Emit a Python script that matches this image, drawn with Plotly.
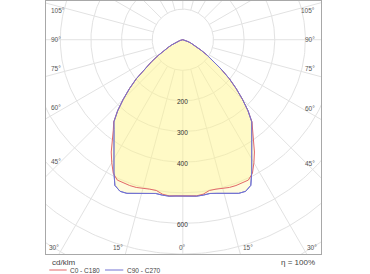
import numpy as np
import plotly.graph_objects as go

# ---- data (cd/klm) ----
angles = [0, 2.5, 5, 7.5, 10, 12.5, 15, 17.5, 20, 22.5, 25, 27.5, 30, 32.5, 35, 37.5,
          40, 42.5, 45, 47.5, 50, 52.5, 55, 57.5, 60, 62.5, 65, 67.5, 70, 72.5, 75,
          77.5, 80, 82.5, 85, 87.5, 90]
c0_c180 = [511, 511, 512, 509, 500, 500, 502, 506, 507, 506, 506, 492, 464, 435, 402, 373,
           351, 315, 275, 236, 198, 157, 124, 94, 69, 53, 40, 28, 18, 12, 8,
           5, 3, 2, 1, 0.5, 0]
c90_c270 = [511, 511, 513, 512, 510, 514, 520, 526, 534, 536, 525, 487, 450, 419, 392, 369,
            350, 315, 275, 236, 198, 157, 124, 94, 69, 53, 40, 28, 18, 12, 8,
            5, 3, 2, 1, 0.5, 0]
ring_values = [100, 200, 300, 400, 500, 600, 700, 800, 900]
ring_labels = [200, 300, 400, 600]
spoke_angles = list(range(0, 360, 15))
angle_tick_labels = [0, 15, 30, 45, 60, 75, 90, 105]
series_names = ["C0 - C180", "C90 - C270"]
efficiency_text = "η = 100%"
unit_text = "cd/klm"

# ---- layout constants ----
W, H = 370, 274
ML, MR, MT, MB = 46, 49, 1, 20
X0, X1 = -446.7, 451.0
Y0, Y1 = -700.0, 126.5
pw = W - ML - MR
ph = H - MT - MB
ux = (X1 - X0) / pw   # data units per px
uy = (Y1 - Y0) / ph
FONT = "Liberation Sans, Arial, sans-serif"
RED = "#E2686A"
BLUE = "#7272D2"
GRID = "#E2E2E2"


def polar_xy(theta_deg, r):
    t = np.radians(np.asarray(theta_deg, dtype=float))
    r = np.asarray(r, dtype=float)
    return r * np.sin(t), -r * np.cos(t)


def full_curve(vals):
    th = [-a for a in angles[::-1]] + angles[1:]
    rr = vals[::-1] + vals[1:]
    return polar_xy(th, rr)


fig = go.Figure()

# grid rings
gx, gy = [], []
tt = np.linspace(0, 360, 361)
for rv in ring_values:
    x, y = polar_xy(tt, [rv] * len(tt))
    gx += list(x) + [None]
    gy += list(y) + [None]
fig.add_trace(go.Scatter(x=gx, y=gy, mode="lines", line=dict(color=GRID, width=1),
                         hoverinfo="skip", showlegend=False))
# spokes
sx, sy = [], []
for a in spoke_angles:
    x, y = polar_xy([a, a], [ring_values[0], 1200])
    sx += list(x) + [None]
    sy += list(y) + [None]
fig.add_trace(go.Scatter(x=sx, y=sy, mode="lines", line=dict(color=GRID, width=1),
                         hoverinfo="skip", showlegend=False))

# curves
bx, by = full_curve(c90_c270)
rx, ry = full_curve(c0_c180)
fig.add_trace(go.Scatter(x=bx, y=by, mode="lines", fill="toself",
                         fillcolor="rgba(255,246,130,0.28)", line=dict(color=BLUE, width=1),
                         name=series_names[1], showlegend=False))
fig.add_trace(go.Scatter(x=rx, y=ry, mode="lines", fill="toself",
                         fillcolor="rgba(255,246,150,0.30)", line=dict(color=RED, width=1),
                         name=series_names[0], showlegend=False))
fig.add_trace(go.Scatter(x=bx, y=by, mode="lines", line=dict(color=BLUE, width=1),
                         hoverinfo="skip", showlegend=False))

annotations = []
# ring labels
for rv in ring_labels:
    annotations.append(dict(x=0, y=-rv, xref="x", yref="y", text=str(rv), showarrow=False,
                            xanchor="center", yanchor="middle", yshift=-1,
                            font=dict(family=FONT, size=6.5, color="#333333")))

# angle labels on frame
yb_label = Y0 + 1.5 * uy          # bottom of bottom labels
yc_bottom = Y0 + 6 * uy           # centre level of bottom labels
for a in angle_tick_labels:
    sides = [0] if a == 0 else [-1, 1]
    for side in sides:
        sa, ca = np.sin(np.radians(a)), np.cos(np.radians(a))
        xedge = X0 if side < 0 else X1
        t_side = abs(xedge) / sa if sa > 1e-9 else np.inf
        t_bot = -Y0 / ca if ca > 1e-9 else np.inf
        txt = f"{a}°"
        f = dict(family=FONT, size=6.5, color="#555555")
        if t_bot < t_side:
            xs = side * (-yc_bottom) * sa / ca if side != 0 else 0.0
            if side == 0:
                xa, xsft = "center", 0
            elif side < 0:
                xa, xsft = "right", -2
            else:
                xa, xsft = "left", 2
            annotations.append(dict(x=xs, y=yb_label, xref="x", yref="y", text=txt,
                                    showarrow=False, xanchor=xa, yanchor="bottom",
                                    xshift=xsft, font=f))
        else:
            if side < 0:
                xl = X0 + 2.5 * ux
                xe = X0 + 9 * ux
                xa = "left"
            else:
                xl = X1 - 4.5 * ux
                xe = X1 - 9 * ux
                xa = "right"
            ye = -abs(xe) * ca / sa
            ya = "bottom" if a < 90 else ("middle" if a == 90 else "top")
            annotations.append(dict(x=xl, y=ye, xref="x", yref="y", text=txt,
                                    showarrow=False, xanchor=xa, yanchor=ya, font=f))


def px2paper(px, py):
    return (px - ML) / pw, (H - MB - py) / ph


# unit, efficiency, legend
ux_, uy_ = px2paper(49.5, 262)
annotations.append(dict(x=ux_, y=uy_, xref="paper", yref="paper", text=unit_text,
                        showarrow=False, xanchor="left", yanchor="middle",
                        font=dict(family=FONT, size=8, color="#444444")))
ex_, ey_ = px2paper(316.5, 262)
annotations.append(dict(x=ex_, y=ey_, xref="paper", yref="paper", text=efficiency_text,
                        showarrow=False, xanchor="right", yanchor="middle",
                        font=dict(family=FONT, size=8, color="#444444")))

shapes = []
legend_items = [(series_names[0], RED, 49.3, 66.7, 68.3), (series_names[1], BLUE, 105, 123.3, 124.5)]
for name, col, lx0, lx1, tx in legend_items:
    p0 = px2paper(lx0, 270)
    p1 = px2paper(lx1, 270)
    shapes.append(dict(type="line", xref="paper", yref="paper", x0=p0[0], x1=p1[0],
                       y0=p0[1], y1=p1[1], line=dict(color=col, width=1)))
    pt = px2paper(tx, 270)
    annotations.append(dict(x=pt[0], y=pt[1], xref="paper", yref="paper", text=name,
                            showarrow=False, xanchor="left", yanchor="middle",
                            font=dict(family=FONT, size=6.5, color="#444444")))

axis_common = dict(showgrid=False, zeroline=False, showticklabels=False, ticks="",
                   showline=True, mirror=True, linecolor="#A8A8A8", linewidth=1,
                   fixedrange=True)
fig.update_layout(
    width=W, height=H,
    margin=dict(l=ML, r=MR, t=MT, b=MB),
    paper_bgcolor="white", plot_bgcolor="white",
    xaxis=dict(range=[X0, X1], **axis_common),
    yaxis=dict(range=[Y0, Y1], **axis_common),
    annotations=annotations, shapes=shapes,
    showlegend=False,
)

fig.write_html("out.html")
